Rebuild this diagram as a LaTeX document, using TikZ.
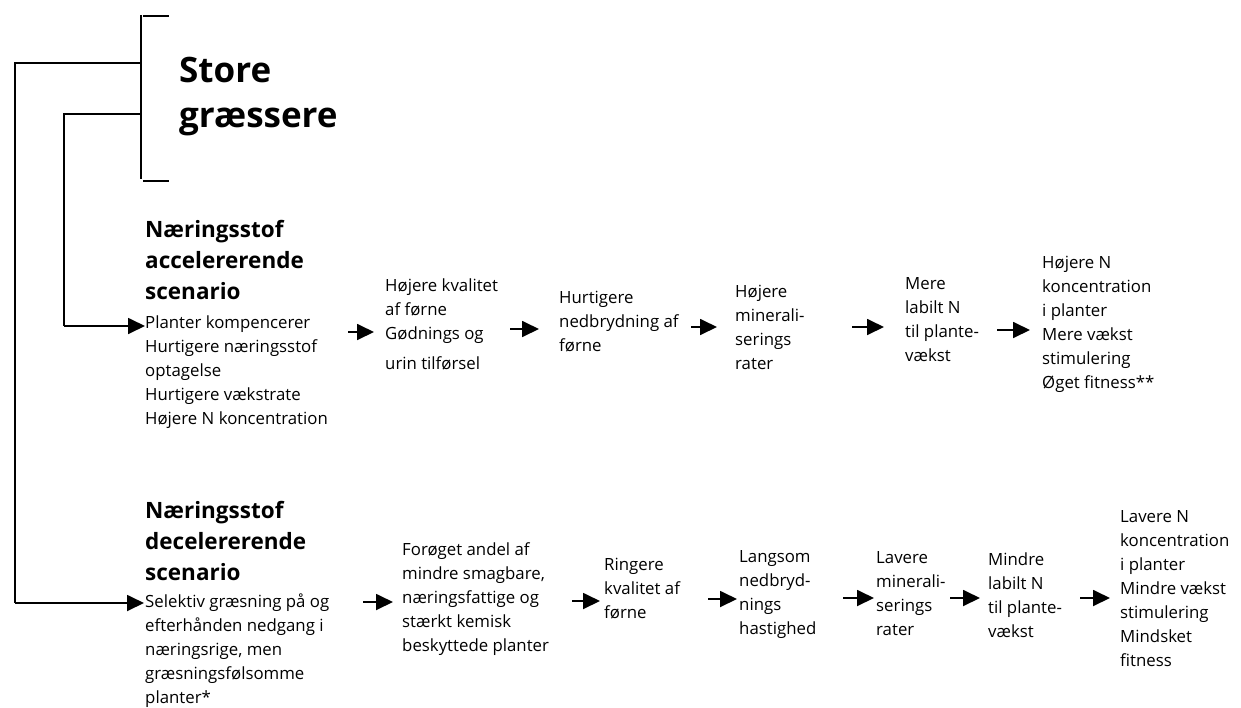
\documentclass[tikz,border=0pt]{standalone}
\usepackage{fontspec}
\setmainfont{Open Sans}
\usetikzlibrary{arrows.meta}
\newcommand{\ml}[1]{\begin{tabular}[t]{@{}l@{}}#1\end{tabular}}
\begin{document}
\begin{tikzpicture}[x=1pt,y=-1pt,
  body/.style={anchor=base west,inner sep=0pt,font=\fontsize{16.8}{24}\selectfont},
  head/.style={anchor=base west,inner sep=0pt,font=\fontsize{22.5}{31}\selectfont\bfseries},
  ttl/.style={anchor=base west,inner sep=0pt,font=\fontsize{35}{45}\selectfont\bfseries},
  ln/.style={line width=1.8pt},
  arr/.style={line width=1.8pt,-{Triangle[length=17pt,width=16pt]}}]
\useasboundingbox (0,0) rectangle (1241,707);
% title
\node[ttl] (title) at (179,82) {\ml{Store\\græssere}};
\draw[ln] (141,15) -- (141,179);
\draw[ln] (143,16) -- (169,16);
\draw[ln] (143,181) -- (169,181);
\coordinate (o1) at (141,63);
\coordinate (o2) at (141,114);
% headings
\node[head] (h1) at (145,237) {\ml{Næringsstof\\accelererende\\scenario}};
\node[head] (h2) at (145,518) {\ml{Næringsstof\\decelererende\\scenario}};
% top row
\node[body] (a1) at (145,328) {\ml{Planter kompencerer\\Hurtigere næringsstof\\optagelse\\Hurtigere vækstrate\\Højere N koncentration}};
\node[body] (a2) at (385,291) {\ml{Højere kvalitet\\af førne\\Gødnings og\\[6pt]urin tilførsel}};
\node[body] (a3) at (559,303) {\ml{Hurtigere\\nedbrydning af\\førne}};
\node[body] (a4) at (735,297) {\ml{Højere\\minerali-\\serings\\rater}};
\node[body] (a5) at (905,289) {\ml{Mere\\labilt N\\til plante-\\vækst}};
\node[body] (a6) at (1042,268) {\ml{Højere N\\koncentration\\i planter\\Mere vækst\\stimulering\\Øget fitness**}};
% bottom row
\node[body] (b1) at (145,607) {\ml{Selektiv græsning på og\\efterhånden nedgang i\\næringsrige, men\\græsningsfølsomme\\planter*}};
\node[body] (b2) at (402,555) {\ml{Forøget andel af\\mindre smagbare,\\næringsfattige og\\stærkt kemisk\\beskyttede planter}};
\node[body] (b3) at (604,570) {\ml{Ringere\\kvalitet af\\førne}};
\node[body] (b4) at (739,562) {\ml{Langsom\\nedbryd-\\nings\\hastighed}};
\node[body] (b5) at (876,563) {\ml{Lavere\\minerali-\\serings\\rater}};
\node[body] (b6) at (988,565) {\ml{Mindre\\labilt N\\til plante-\\vækst}};
\node[body] (b7) at (1120,522) {\ml{Lavere N\\koncentration\\i planter\\Mindre vækst\\stimulering\\Mindsket\\fitness}};
% connectors from bracket
\draw[ln] (o1) -- (15,63) -- (15,603) coordinate (c1);
\draw[arr] (c1) -- (144,603);
\draw[ln] (o2) -- (64,114) -- (64,326) coordinate (c2);
\draw[arr] (c2) -- (145,326);
% top arrows
\draw[arr] (348,332) -- (374,332);
\draw[arr] (510,329) -- (539,329);
\draw[arr] (691,327) -- (717,327);
\draw[arr] (852,327) -- (884,327);
\draw[arr] (997,330) -- (1030,330);
% bottom arrows
\draw[arr] (363,602) -- (393,602);
\draw[arr] (572,601) -- (600,601);
\draw[arr] (708,599) -- (737,599);
\draw[arr] (843,598) -- (874,598);
\draw[arr] (950,598) -- (980,598);
\draw[arr] (1080,598) -- (1110,598);
\end{tikzpicture}
\end{document}
